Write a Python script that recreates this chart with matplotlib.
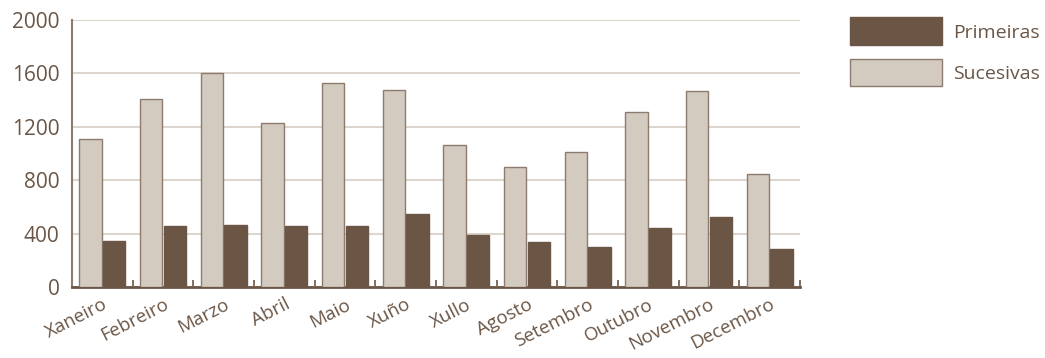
import matplotlib.pyplot as plt
import numpy as np

months = ["Xaneiro", "Febreiro", "Marzo", "Abril", "Maio", "Xuño",
          "Xullo", "Agosto", "Setembro", "Outubro", "Novembro", "Decembro"]
sucesivas = [1112, 1412, 1600, 1232, 1525, 1475, 1065, 902, 1012, 1312, 1467, 845]
primeiras = [345, 457, 465, 460, 460, 550, 392, 340, 300, 445, 525, 285]

dark = "#6b5646"
light = "#d3cac0"
text_col = "#6b5646"
grid_col = "#ddd6cf"

plt.rcParams["font.family"] = ["Open Sans", "DejaVu Sans"]

fig = plt.figure(figsize=(10.45, 3.58), dpi=100)
ax = fig.add_axes([0.0689, 0.198, 0.6967, 0.746])

x = np.arange(len(months))
w = 0.37
ax.bar(x - w / 2 - 0.01, sucesivas, w, color=light, edgecolor="#8c7b6e", linewidth=1, label="Sucesivas", zorder=3)
ax.bar(x + w / 2 + 0.01, primeiras, w, color=dark, edgecolor=dark, linewidth=1, label="Primeiras", zorder=3)

ax.set_xlim(-0.5, len(months) - 0.5)
ax.set_ylim(0, 2000)
ax.set_yticks(np.arange(0, 2001, 400))
ax.yaxis.grid(True, color=grid_col, linewidth=1.5, zorder=0)
ax.tick_params(axis="y", length=0, labelsize=15, labelcolor=text_col, pad=9)

ax.set_xticks(x)
ax.set_xticklabels(months, rotation=27, ha="right", rotation_mode="anchor",
                   fontsize=13.5, color=text_col)
ax.tick_params(axis="x", which="major", length=0, pad=6)
ax.set_xticks(np.arange(0.5, len(months), 1), minor=True)
ax.tick_params(axis="x", which="minor", direction="in", length=5, width=1.2, color=dark)

for s in ["top", "right"]:
    ax.spines[s].set_visible(False)
ax.spines["left"].set_color("#8c7b6e")
ax.spines["left"].set_linewidth(1.5)
ax.spines["bottom"].set_color(dark)
ax.spines["bottom"].set_linewidth(2)

handles, labels = ax.get_legend_handles_labels()
fig.legend(handles[::-1], labels[::-1], loc="upper left", bbox_to_anchor=(0.797, 1.0),
           frameon=False, fontsize=14, handlelength=4.7, handleheight=1.8,
           labelspacing=0.7, handletextpad=0.6, labelcolor=text_col)

fig.savefig("out.png", dpi=100)
